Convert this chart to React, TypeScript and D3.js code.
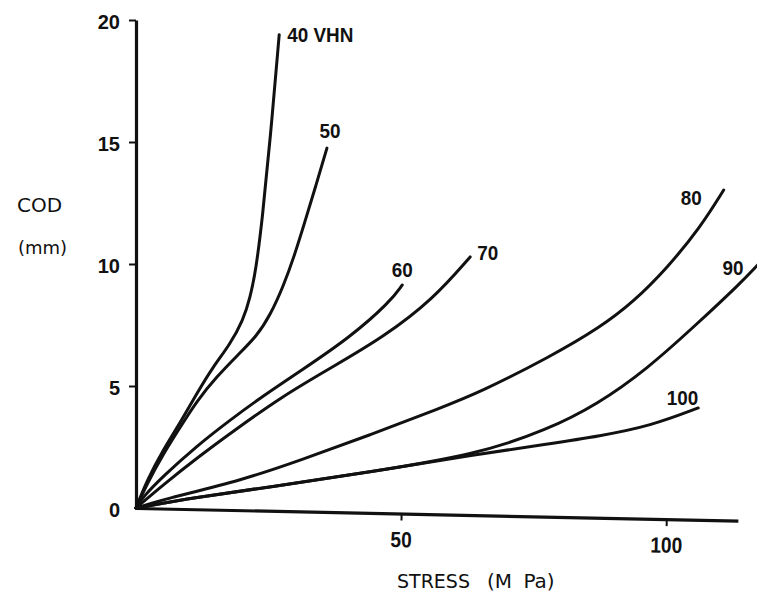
import { useEffect, useRef } from 'react';
import * as d3 from 'd3';

// stress (MPa) vs COD (mm) for each hardness level
const hardness = ['40', '50', '60', '70', '80', '90', '100'];

const stress40 = [0, 2.1, 5.1, 8.3, 11.5, 14.5, 17.7, 20.2, 21.5, 22.6, 23.8, 25.3, 27];
const cod40 = [0, 1.15, 2.38, 3.48, 4.71, 5.78, 6.7, 7.7, 8.6, 9.75, 11.8, 15.1, 19.4];

const stress50 = [0, 2.1, 5.1, 8.3, 11.5, 15.3, 19.1, 22.8, 25.3, 27.8, 29.8, 31.8, 33.9, 36];
const cod50 = [0, 1.0, 2.2, 3.3, 4.4, 5.4, 6.25, 7.05, 7.9, 9.1, 10.3, 11.7, 13.2, 14.75];

const stress60 = [0, 1.3, 5.1, 11.5, 17.7, 24, 30.9, 40.4, 47.9, 50.2];
const cod60 = [0, 0.45, 1.3, 2.55, 3.6, 4.6, 5.6, 7.0, 8.45, 9.14];

const stress70 = [0, 5.1, 12.1, 17.7, 27.7, 37.2, 46.6, 56, 63];
const cod70 = [0, 0.95, 2.15, 3.05, 4.6, 5.8, 7.0, 8.55, 10.29];

const stress80 = [0, 5.1, 20.2, 30.9, 44.2, 57.4, 64.9, 78.1, 87.5, 93.8, 100.2, 106.4, 110.8];
const cod80 = [0, 0.35, 1.15, 1.95, 3.0, 4.1, 4.75, 6.2, 7.4, 8.45, 9.85, 11.5, 13.03];

const stress90 = [0, 11.5, 25.3, 44.2, 64.3, 77.5, 87, 96.4, 105.8, 114, 117.2];
const cod90 = [0, 0.45, 0.86, 1.48, 2.2, 3.2, 4.25, 5.7, 7.55, 9.22, 9.96];

const stress100 = [0, 11.5, 25.3, 44.2, 64.3, 77.5, 87.5, 97, 106];
const cod100 = [0, 0.45, 0.86, 1.48, 2.2, 2.62, 2.95, 3.36, 4.1];

const xTicks = [50, 100];
const yTicks = [0, 5, 10, 15, 20];

const seriesStress = [stress40, stress50, stress60, stress70, stress80, stress90, stress100];
const seriesCod = [cod40, cod50, cod60, cod70, cod80, cod90, cod100];

// label text and placement relative to curve end (px)
const labelText = ['40 VHN', '50', '60', '70', '80', '90', '100'];
const labelOffset: [number, number, string][] = [
  [8, 7, 'start'],
  [3, -10, 'middle'],
  [0, -8, 'middle'],
  [7, 3, 'start'],
  [-22, 15, 'end'],
  [-14, 10, 'end'],
  [0, -3, 'end'],
];

const NUM_FONT = '"Liberation Sans", Arial, sans-serif';
const TXT_FONT = '"DejaVu Sans", Verdana, sans-serif';

export default function App() {
  const svgRef = useRef<SVGSVGElement>(null);

  useEffect(() => {
    const svg = d3.select(svgRef.current);
    svg.selectAll('*').remove();

    const x = d3.scaleLinear().domain([0, 113.5]).range([136, 738]);
    const y = d3.scaleLinear().domain([0, 20]).range([508, 20]);

    const g = svg.append('g');

    // Y axis
    const yAxis = g
      .append('g')
      .attr('transform', `translate(${x(0)},0)`)
      .call(d3.axisLeft(y).tickValues(yTicks).tickSize(7).tickSizeOuter(0).tickPadding(9));
    yAxis.select('.domain').attr('stroke', '#111').attr('stroke-width', 3.2);
    yAxis.selectAll('.tick line').attr('stroke', '#111').attr('stroke-width', 2);
    yAxis.selectAll('.tick')
      .filter((d) => d === 0)
      .select('line')
      .remove();
    yAxis
      .selectAll('.tick text')
      .attr('fill', '#111')
      .attr('dy', '0.4em')
      .style('font-family', NUM_FONT)
      .style('font-weight', 'bold')
      .style('font-size', '20px');

    // X axis (slightly tilted, as in the original drawing)
    const xAxis = g
      .append('g')
      .attr('transform', `translate(0,${y(0)}) rotate(1.2, ${x(0)}, 0)`)
      .call(d3.axisBottom(x).tickValues(xTicks).tickSize(7).tickSizeOuter(0).tickPadding(11));
    xAxis.select('.domain').attr('stroke', '#111').attr('stroke-width', 3.2);
    xAxis.selectAll('.tick line').attr('stroke', '#111').attr('stroke-width', 2);
    xAxis
      .selectAll('.tick text')
      .attr('fill', '#111')
      .attr('transform', 'scale(0.87,1)')
      .style('font-family', NUM_FONT)
      .style('font-weight', 'bold')
      .style('font-size', '22px');

    // Curves
    const line = d3
      .line<[number, number]>()
      .x((d) => x(d[0]))
      .y((d) => y(d[1]))
      .curve(d3.curveBasis);

    hardness.forEach((h, i) => {
      const pts: [number, number][] = seriesStress[i].map((s, j) => [s, seriesCod[i][j]]);
      g.append('path')
        .datum(pts)
        .attr('d', line)
        .attr('fill', 'none')
        .attr('stroke', '#111')
        .attr('stroke-width', 3)
        .attr('stroke-linecap', 'round');

      const last = pts[pts.length - 1];
      const [dx, dy, anchor] = labelOffset[i];
      g.append('text')
        .attr('transform', `translate(${x(last[0]) + dx},${y(last[1]) + dy}) scale(0.9,1)`)
        .attr('text-anchor', anchor)
        .attr('fill', '#111')
        .style('font-family', NUM_FONT)
        .style('font-weight', 'bold')
        .style('font-size', '21px')
        .text(labelText[i]);
    });

    // Axis titles
    g.append('text')
      .attr('x', 17)
      .attr('y', 212)
      .attr('fill', '#111')
      .style('font-family', TXT_FONT)
      .style('font-size', '20px')
      .text('COD');
    g.append('text')
      .attr('x', 18)
      .attr('y', 254)
      .attr('fill', '#111')
      .style('font-family', TXT_FONT)
      .style('font-size', '18px')
      .text('(mm)');
    g.append('text')
      .attr('x', 397)
      .attr('y', 588)
      .attr('fill', '#111')
      .style('font-family', TXT_FONT)
      .style('font-size', '19px')
      .text('STRESS');
    g.append('text')
      .attr('x', 487)
      .attr('y', 588)
      .attr('fill', '#111')
      .style('font-family', TXT_FONT)
      .style('font-size', '20px')
      .style('word-spacing', '5px')
      .text('(M Pa)');
  }, []);

  return (
    <svg
      ref={svgRef}
      width={757}
      height={596}
      style={{ position: 'absolute', left: 0, top: 0, background: '#fff' }}
    />
  );
}
